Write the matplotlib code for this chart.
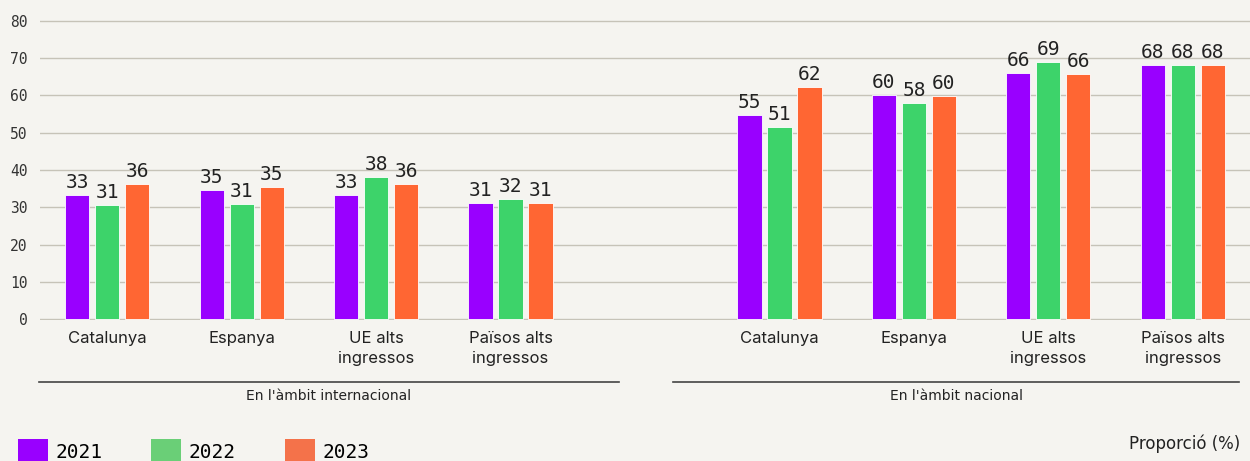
import matplotlib.pyplot as plt
import numpy as np
from matplotlib.patches import Patch

# data
categories = ["Catalunya", "Espanya", "UE alts\ningressos", "Països alts\ningressos"]
groups = ["En l'àmbit internacional", "En l'àmbit nacional"]
years = ["2021", "2022", "2023"]
internacional = {
    "2021": [33.2, 34.6, 33.4, 31.1],
    "2022": [30.6, 30.8, 38.0, 32.2],
    "2023": [36.1, 35.4, 36.1, 31.1],
}
nacional = {
    "2021": [54.7, 60.1, 66.0, 68.2],
    "2022": [51.5, 57.9, 68.9, 68.1],
    "2023": [62.1, 59.8, 65.6, 68.2],
}
labels_int = {"2021": [33, 35, 33, 31], "2022": [31, 31, 38, 32], "2023": [36, 35, 36, 31]}
labels_nac = {"2021": [55, 60, 66, 68], "2022": [51, 58, 69, 68], "2023": [62, 60, 66, 68]}

bar_colors = {"2021": "#9900ff", "2022": "#3dd36a", "2023": "#ff6633"}
legend_colors = {"2021": "#9900ff", "2022": "#6acf77", "2023": "#f4724a"}
bg = "#f5f4f0"
num_font = "DejaVu Sans Mono"

fig = plt.figure(figsize=(12.5, 4.61), dpi=100, facecolor=bg)
ax = fig.add_axes([0.032, 0.306, 0.968, 0.651])
ax.set_facecolor(bg)

x_int = np.arange(4)
x_nac = np.arange(4) + 5
width = 0.18
step = 0.223

for i, yr in enumerate(years):
    off = (i - 1) * step
    for xs, vals, labs in [(x_int, internacional[yr], labels_int[yr]),
                           (x_nac, nacional[yr], labels_nac[yr])]:
        ax.bar(xs + off, vals, width=width, color=bar_colors[yr],
               edgecolor="#ffffff", linewidth=0.6, zorder=3)
        for xx, v, lab in zip(xs + off, vals, labs):
            ax.text(xx, v + 0.8, str(lab), ha="center", va="bottom",
                    fontsize=14, family=num_font, color="#222222", zorder=4)

ax.set_xlim(-0.5, 8.5)
ax.set_ylim(-0.2, 80.2)
ax.set_yticks(np.arange(0, 81, 10))
ax.set_yticklabels([str(v) for v in range(0, 81, 10)], family=num_font, fontsize=10.5, color="#333333")
ax.grid(axis="y", color="#c6c3b8", linewidth=1, zorder=0)
ax.tick_params(axis="y", length=0, pad=9)
ax.tick_params(axis="x", length=0, pad=8)
ax.set_xticks(np.concatenate([x_int, x_nac]))
ax.set_xticklabels(categories * 2, family="Inter", fontsize=12, color="#222222", linespacing=1.45)
for s in ax.spines.values():
    s.set_visible(False)

# group underlines and labels
for (x0, x1), name in zip([(-0.51, 3.81), (4.21, 8.42)], groups):
    ax.plot([x0, x1], [-16.8, -16.8], color="#444444", linewidth=1.2, clip_on=False)
    ax.text((x0 + x1) / 2, -20.6, name, ha="center", va="center", fontsize=10,
            family="Liberation Sans Narrow", color="#222222", clip_on=False)

handles = [Patch(facecolor=legend_colors[yr], label=yr) for yr in years]
fig.legend(handles=handles, loc="lower left", bbox_to_anchor=(0.0, -0.045), ncol=3,
           frameon=False, handlelength=1.55, handleheight=1.6, handletextpad=0.4,
           columnspacing=2.5, prop={"family": num_font, "size": 14})

fig.text(0.992, 0.038, "Proporció (%)", ha="right", va="center", fontsize=12,
         family="Liberation Sans Narrow", color="#222222")

fig.savefig("out.png", dpi=100, facecolor=bg)
